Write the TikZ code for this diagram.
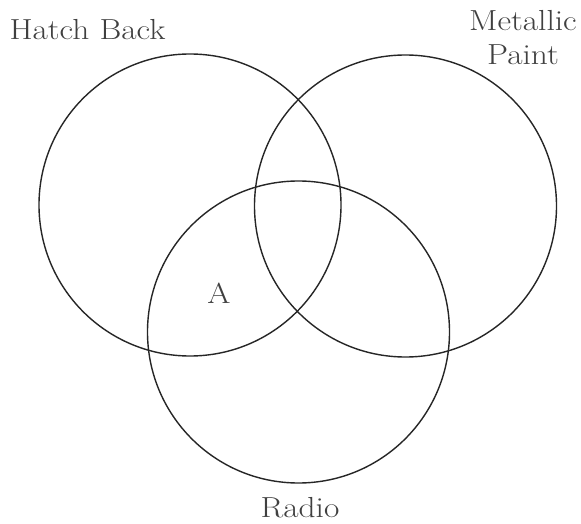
\documentclass[tikz,border=0pt]{standalone}
\begin{document}
\begin{tikzpicture}[x=1pt,y=1pt,
  setc/.style={draw=black!85,line width=1.4pt},
  lbl/.style={text=black!75,font=\fontsize{29}{34}\selectfont,xscale=1.15,inner sep=0pt,anchor=base,align=center}]
\useasboundingbox (0,0) rectangle (581,523);
\fill[white] (0,0) rectangle (581,523);
\node[setc,circle,minimum size=302pt,inner sep=0pt] (hb) at (190,318) {};
\node[setc,circle,minimum size=302pt,inner sep=0pt] (mp) at (405.5,317) {};
\node[setc,circle,minimum size=302pt,inner sep=0pt] (ra) at (298.5,191) {};
\node[lbl] (thb) at (87.5,483) {Hatch Back};
\node[lbl] (tmp) at (523,458) {Metallic\\Paint};
\node[lbl] (ta) at (219,220) {A};
\node[lbl] (tra) at (300,6) {Radio};
\end{tikzpicture}
\end{document}
